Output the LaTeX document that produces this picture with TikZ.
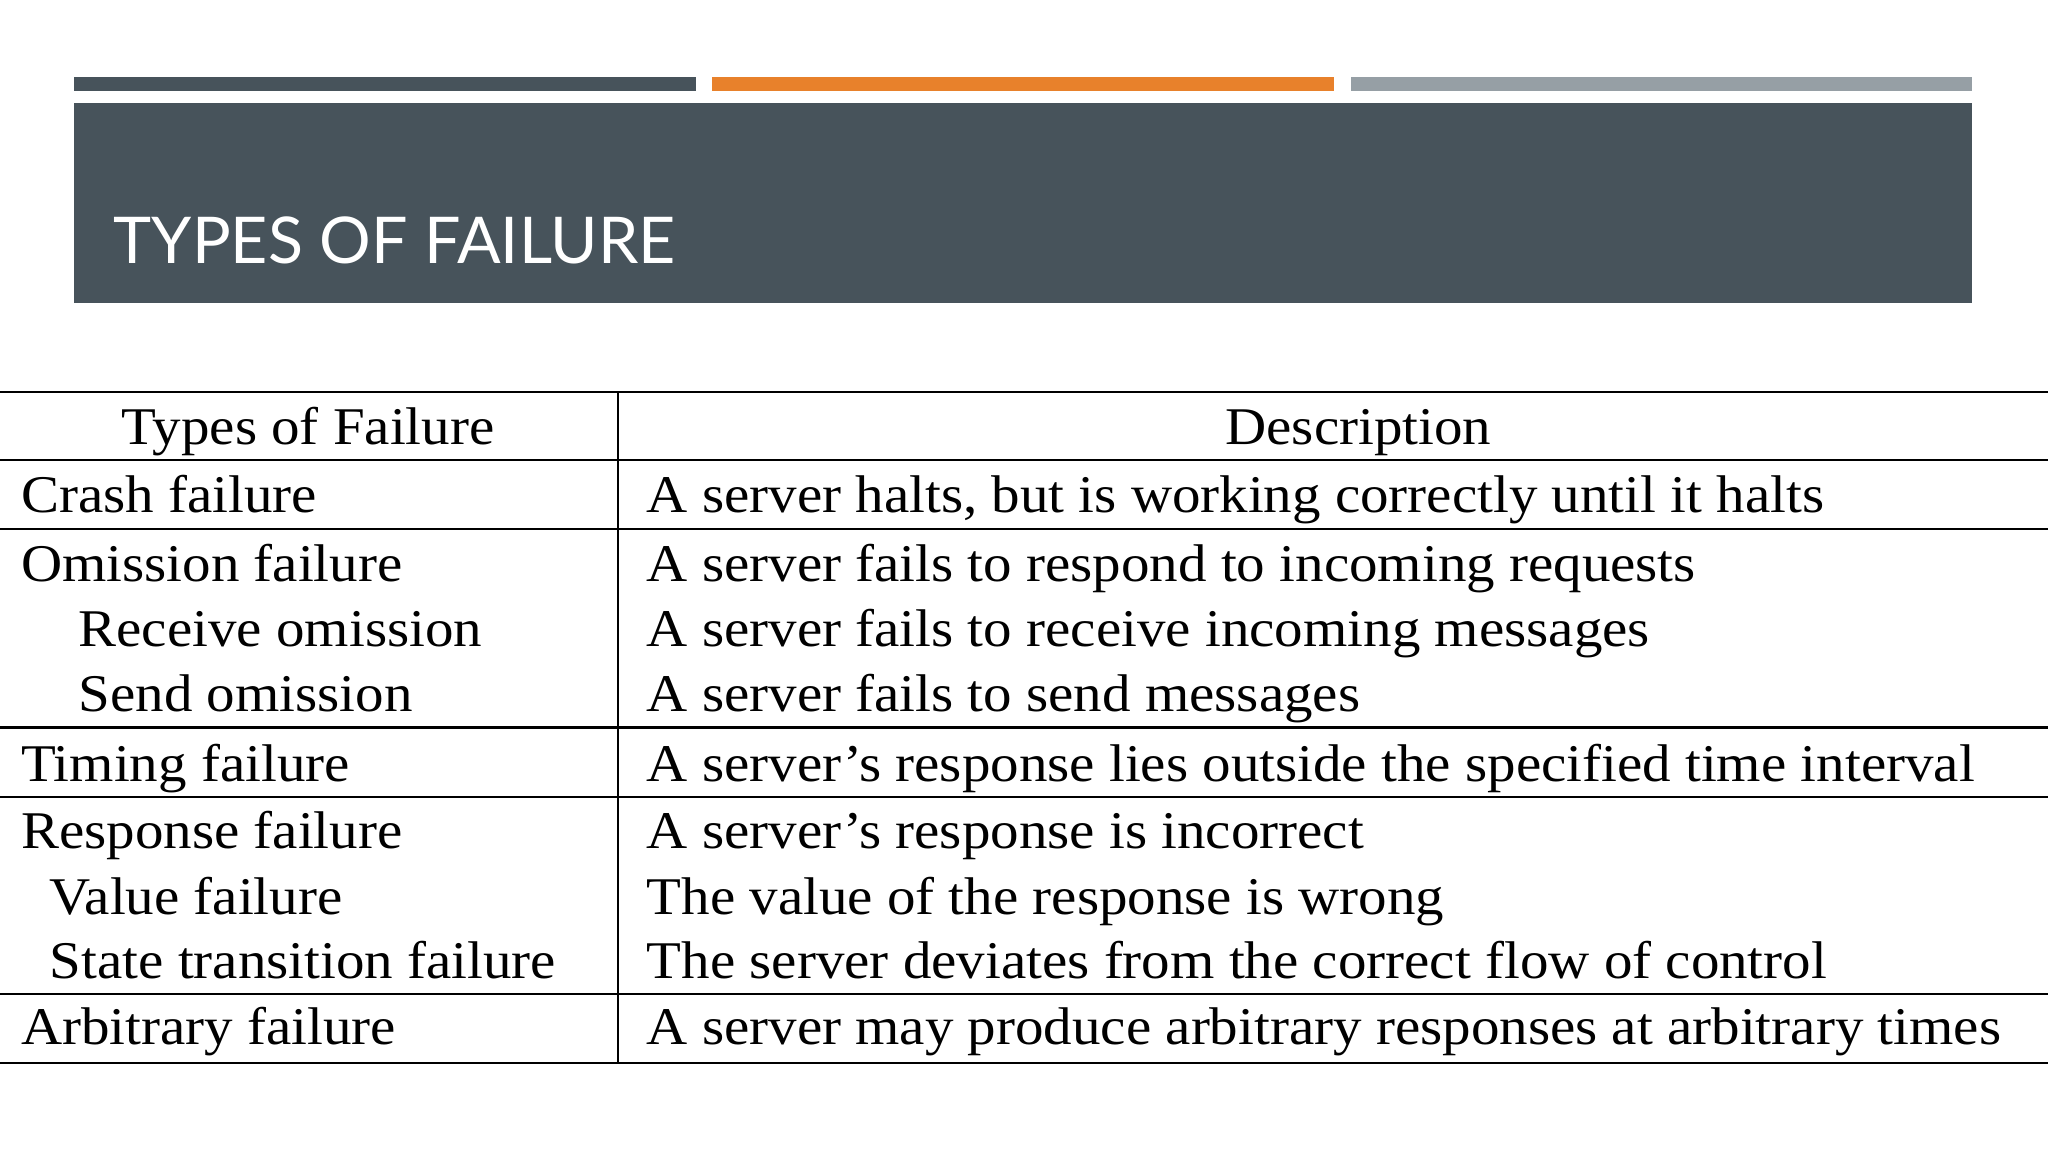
\documentclass[tikz,border=0pt]{standalone}
\usepackage{fontspec}
\setmainfont[FakeStretch=1.075]{Liberation Serif}
\newfontfamily\titlefont{Lato}
\definecolor{darkbar}{HTML}{47535B}
\definecolor{orangebar}{HTML}{E8812B}
\definecolor{graybar}{HTML}{969FA5}
\begin{document}
\begin{tikzpicture}[x=1.306pt,y=-1.306pt,
  cell/.style={anchor=base west,inner sep=0pt,font=\fontsize{53}{53}\selectfont},
  head/.style={anchor=base,inner sep=0pt,font=\fontsize{53}{53}\selectfont},
  rule/.style={line width=2.4pt,black}]
\useasboundingbox[fill=white] (0,0) rectangle (1568,882);
\fill[darkbar] (57,59) rectangle (533,70);
\fill[orangebar] (545,59) rectangle (1021,70);
\fill[graybar] (1034,59) rectangle (1510,70);
\fill[darkbar] (57,79) rectangle (1510,232);
\node[anchor=base west,inner sep=0pt,text=white,font=\titlefont\fontsize{64.5}{64.5}\selectfont] (title) at (87,202) {TYPES OF FAILURE};
% table rules
\foreach \yy in {300,352,405,557,610,761,814} \draw[rule] (0,\yy) -- (1568,\yy);
\draw[rule] (473,300) -- (473,814);
% header
\node[head] (h1) at (236,340) {Types of Failure};
\node[head] (h2) at (1040,340) {Description};
% rows
\node[cell] (a1) at (16,392) {Crash failure};
\node[cell] (b1) at (495,392) {A server halts, but is working correctly until it halts};
\node[cell] (a2) at (16,445) {Omission failure};
\node[cell] (b2) at (495,445) {A server fails to respond to incoming requests};
\node[cell] (a3) at (60,495) {Receive omission};
\node[cell] (b3) at (495,495) {A server fails to receive incoming messages};
\node[cell] (a4) at (60,545) {Send omission};
\node[cell] (b4) at (495,545) {A server fails to send messages};
\node[cell] (a5) at (16,598) {Timing failure};
\node[cell] (b5) at (495,598) {A server’s response lies outside the specified time interval};
\node[cell] (a6) at (16,650) {Response failure};
\node[cell] (b6) at (495,650) {A server’s response is incorrect};
\node[cell] (a7) at (38,700) {Value failure};
\node[cell] (b7) at (495,700) {The value of the response is wrong};
\node[cell] (a8) at (38,749) {State transition failure};
\node[cell] (b8) at (495,749) {The server deviates from the correct flow of control};
\node[cell] (a9) at (16,800) {Arbitrary failure};
\node[cell] (b9) at (495,800) {A server may produce arbitrary responses at arbitrary times};
\end{tikzpicture}
\end{document}
